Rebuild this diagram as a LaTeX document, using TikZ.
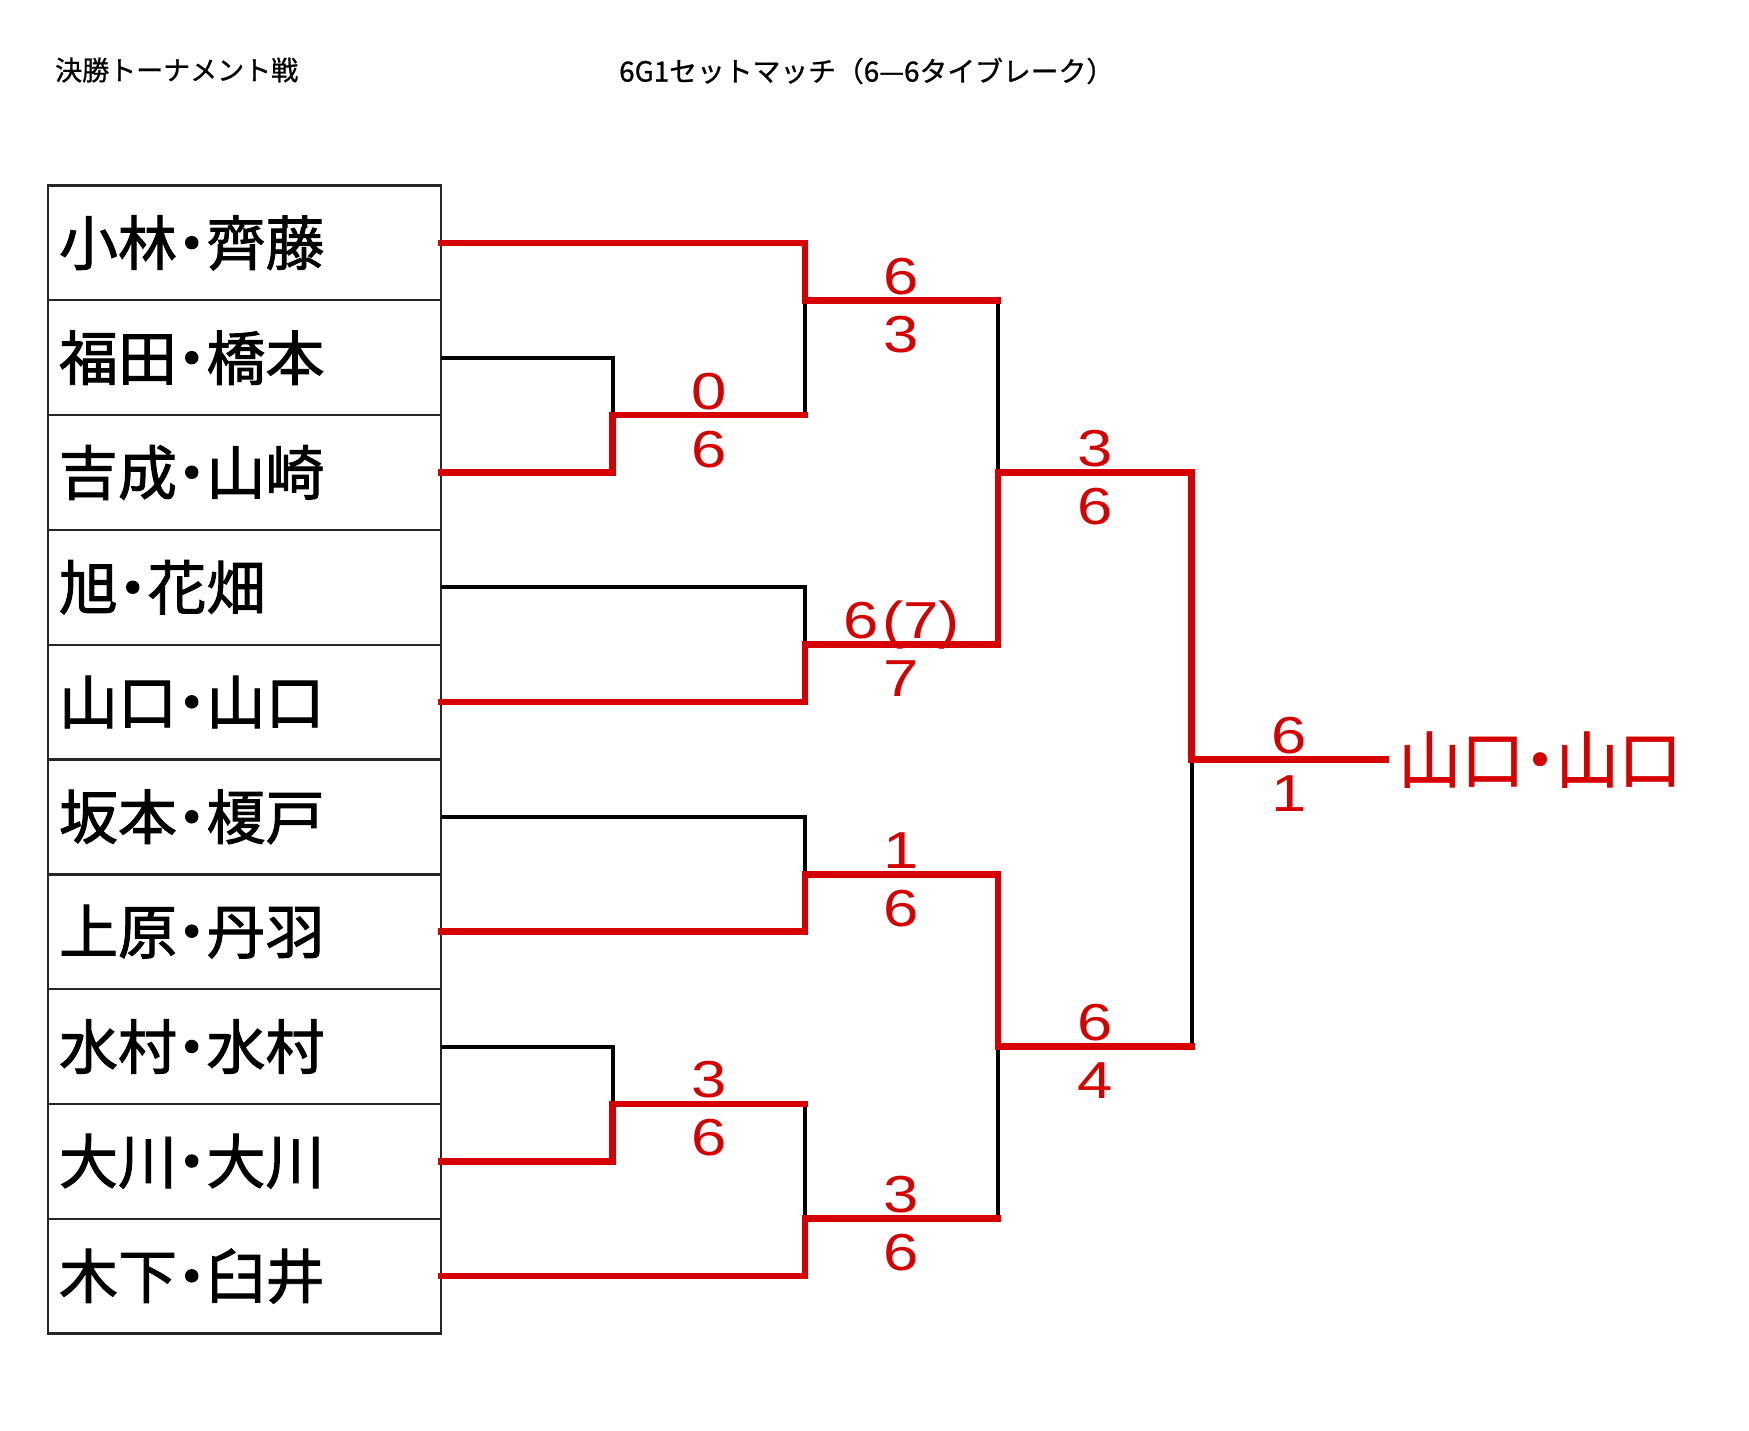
\documentclass[tikz,border=0pt]{standalone}
\usepackage{fontspec}
\usetikzlibrary{calc}
\newfontfamily\jpfont[RawFeature=+palt]{Noto Sans CJK JP}
\newfontfamily\namefont[RawFeature=+palt,FakeBold=1.6]{Noto Sans CJK JP}
\newfontfamily\winfont[RawFeature=+palt,FakeBold=1.0]{Noto Sans CJK JP}
\newfontfamily\titlefont[FakeBold=0.9]{Noto Sans CJK JP}
\newfontfamily\scorefont[FakeStretch=1.22]{Liberation Sans}
\definecolor{bred}{RGB}{214,0,0}
\begin{document}
\begin{tikzpicture}[x=1pt,y=-1pt,
  namebox/.style={draw=black!85, line width=2.4pt, minimum width=393pt, minimum height=114.8pt,
    inner xsep=11pt, inner ysep=0pt, text width=371pt, align=left, outer sep=0pt,
    font=\namefont\fontsize{59}{59}\selectfont},
  blk/.style={draw=black, line width=4pt},
  rd/.style={draw=bred, line width=6.5pt, line cap=rect},
  scoreup/.style={anchor=base, yshift=6pt, inner sep=0pt, text=bred, font=\scorefont\fontsize{52}{52}\selectfont},
  scoredn/.style={anchor=base, yshift=-52pt, inner sep=0pt, text=bred, font=\scorefont\fontsize{52}{52}\selectfont},
  title/.style={anchor=west, inner sep=0pt, font=\titlefont\fontsize{27}{27}\selectfont}]
\useasboundingbox (0,0) rectangle (1749,1431);
\fill[white] (0,0) rectangle (1749,1431);

% titles
\node[title] (t1) at (55,70) {決勝トーナメント戦};
\node[title, font=\titlefont\fontsize{27.8}{27.8}\selectfont] (t2) at (619,71) {6G1セットマッチ（6—6タイブレーク）};

% name boxes
\node[namebox] (n1) at (244.5,242.9) {小林・齊藤};
\node[namebox] (n2) at (244.5,357.7) {福田・橋本};
\node[namebox] (n3) at (244.5,472.5) {吉成・山崎};
\node[namebox] (n4) at (244.5,587.3) {旭・花畑};
\node[namebox] (n5) at (244.5,702.1) {山口・山口};
\node[namebox] (n6) at (244.5,816.9) {坂本・榎戸};
\node[namebox] (n7) at (244.5,931.7) {上原・丹羽};
\node[namebox] (n8) at (244.5,1046.5) {水村・水村};
\node[namebox] (n9) at (244.5,1161.3) {大川・大川};
\node[namebox] (n10) at (244.5,1276.1) {木下・臼井};

% junctions
\coordinate (mA) at (612.5,415.1);
\coordinate (mB) at (805,300.3);
\coordinate (mC) at (805,644.7);
\coordinate (mE) at (805,874.3);
\coordinate (mF) at (612.5,1103.9);
\coordinate (mG) at (805,1218.7);
\coordinate (mD) at (998,472.5);
\coordinate (mH) at (998,1046.5);
\coordinate (mFin) at (1191.5,759.5);
\coordinate (endFin) at (1386,759.5);

% black (losing) lines
\draw[blk] (n2.east) -| (mA);
\draw[blk] (mB) -- (mA -| mB);
\draw[blk] (mB -| mD) -- (mD);
\draw[blk] (n4.east) -| (mC);
\draw[blk] (n6.east) -| (mE);
\draw[blk] (mFin) -- (mH -| mFin);
\draw[blk] (n8.east) -| (mF);
\draw[blk] (mF -| mG) -- (mG);
\draw[blk] (mH) -- (mG -| mH);

% red (winning) lines
\draw[rd] (n1.east) -| (mB) -- (mB -| mD);
\draw[rd] (n3.east) -| (mA) -- (mA -| mB);
\draw[rd] (n5.east) -| (mC) -| (mD) -| (mFin) -- (endFin);
\draw[rd] (n7.east) -| (mE) -| (mH) -- (mH -| mFin);
\draw[rd] (n9.east) -| (mF) -- (mF -| mG);
\draw[rd] (n10.east) -| (mG) -- (mG -| mH);

% scores
\path (mA) -- (mA -| mB) node[pos=.5,scoreup] (sA1) {0} node[pos=.5,scoredn] (sA2) {6};
\path (mB) -- (mB -| mD) node[pos=.5,scoreup] (sB1) {6} node[pos=.5,scoredn] (sB2) {3};
\path (mC) -- (mC -| mD) node[pos=.5,scoreup] (sC1) {6\kern4pt(7)} node[pos=.5,scoredn] (sC2) {7};
\path (mD) -- (mD -| mFin) node[pos=.5,scoreup] (sD1) {3} node[pos=.5,scoredn] (sD2) {6};
\path (mE) -- (mE -| mD) node[pos=.5,scoreup] (sE1) {1} node[pos=.5,scoredn] (sE2) {6};
\path (mF) -- (mF -| mG) node[pos=.5,scoreup] (sF1) {3} node[pos=.5,scoredn] (sF2) {6};
\path (mG) -- (mG -| mD) node[pos=.5,scoreup] (sG1) {3} node[pos=.5,scoredn] (sG2) {6};
\path (mH) -- (mH -| mFin) node[pos=.5,scoreup] (sH1) {6} node[pos=.5,scoredn] (sH2) {4};
\path (mFin) -- (endFin) node[pos=.5,scoreup] (sX1) {6} node[pos=.5,scoredn] (sX2) {1};

% winner
\node[anchor=west, inner sep=0pt, text=bred, font=\winfont\fontsize{63}{63}\selectfont] (win) at (1398,759.5) {山口・山口};
\end{tikzpicture}
\end{document}
